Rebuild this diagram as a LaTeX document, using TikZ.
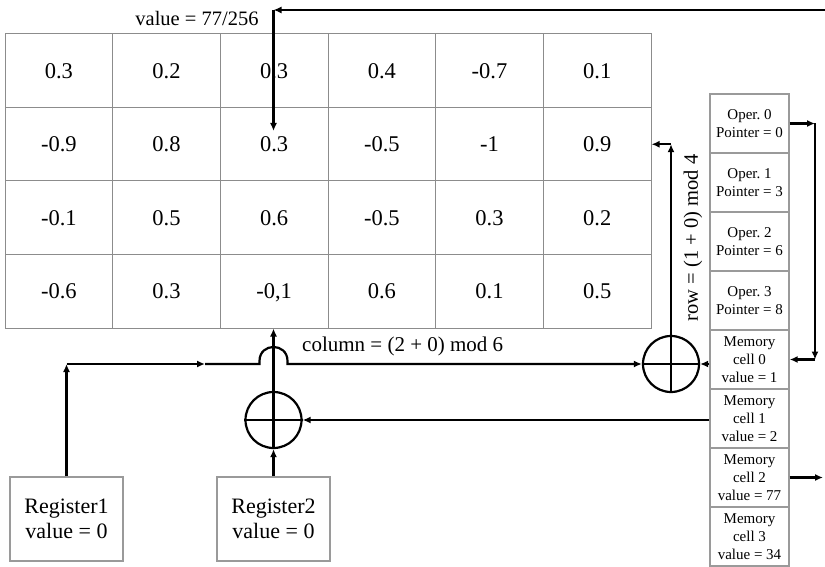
\documentclass[tikz,border=0pt]{standalone}
\usepackage{fontspec}
\setmainfont{Liberation Serif}
\usetikzlibrary{arrows.meta}
\definecolor{gridgray}{HTML}{8C8C8C}
\definecolor{boxgray}{HTML}{9A9A9A}
\frenchspacing
\begin{document}
\begin{tikzpicture}[x=1pt,y=-1pt,
  cell/.style={draw=gridgray, line width=1pt, minimum width=107.67pt, minimum height=73.5pt, inner sep=0pt, text height=15pt, text depth=0pt, font=\fontsize{22.5}{26}\selectfont},
  membox/.style={draw=boxgray, line width=1.4pt, minimum width=79pt, minimum height=59pt, inner sep=0pt, align=center, font=\fontsize{15}{18}\selectfont},
  regbox/.style={draw=boxgray, line width=1.4pt, minimum width=113pt, minimum height=84pt, inner sep=0pt, align=center, font=\fontsize{22}{25}\selectfont},
  xorc/.style={draw, circle, line width=2.2pt, minimum size=56pt, inner sep=0pt},
  conn/.style={line width=2.2pt, -{Latex[length=8pt,width=7pt]}},
  plain/.style={line width=2.2pt},
  lbl/.style={font=\fontsize{20.5}{24}\selectfont, inner sep=0pt}]
\useasboundingbox (0,0) rectangle (825,567);

% grid
\foreach \v [count=\c] in {0.3,0.2,0.3,0.4,-0.7,0.1}
  \node[cell] (g1\c) at ({5+107.67*(\c-0.5)},70.75) {\v};
\foreach \v [count=\c] in {-0.9,0.8,0.3,-0.5,-1,0.9}
  \node[cell] (g2\c) at ({5+107.67*(\c-0.5)},144.25) {\v};
\foreach \v [count=\c] in {-0.1,0.5,0.6,-0.5,0.3,0.2}
  \node[cell] (g3\c) at ({5+107.67*(\c-0.5)},217.75) {\v};
\foreach \v [count=\c] in {-0.6,0.3,{-0,1},0.6,0.1,0.5}
  \node[cell] (g4\c) at ({5+107.67*(\c-0.5)},291.25) {\v};

% memory column
\node[membox] (op0) at (749.5,123.5) {Oper. 0\\Pointer = 0};
\node[membox] (op1) at (749.5,182.5) {Oper. 1\\Pointer = 3};
\node[membox] (op2) at (749.5,241.5) {Oper. 2\\Pointer = 6};
\node[membox] (op3) at (749.5,300.5) {Oper. 3\\Pointer = 8};
\node[membox] (mem0) at (749.5,359.5) {Memory\\cell 0\\value = 1};
\node[membox] (mem1) at (749.5,418.5) {Memory\\cell 1\\value = 2};
\node[membox] (mem2) at (749.5,477.5) {Memory\\cell 2\\value = 77};
\node[membox] (mem3) at (749.5,536.5) {Memory\\cell 3\\value = 34};

% registers
\node[regbox] (reg1) at (66.5,519) {Register1\\value = 0};
\node[regbox] (reg2) at (273.5,519) {Register2\\value = 0};

% xor circles
\node[xorc] (xl) at (273.5,420) {};
\node[xorc] (xr) at (671,364) {};
\draw[plain] (xl.west) -- (xl.east);
\draw[plain] (xr.west) -- (xr.east);

% labels
\node[lbl] (vlab) at (197,18) {value = 77/256};
\node[lbl, anchor=west, font=\fontsize{21}{24}\selectfont] (clab) at (302,346) {column = (2 + 0) mod 6};
\node[lbl, rotate=90] (rlab) at (693,238) {row = (1 + 0) mod 4};

% coordinates
\coordinate (topR) at (825,10);
\coordinate (topL) at (273.5,10);
\coordinate (vtip) at (273.5,131);
\coordinate (r1c) at (66.5,364);
\coordinate (hopin) at (205,364);
\coordinate (rowtop) at (671,144.25);
\coordinate (opR) at (815,123.5);
\coordinate (opD) at (815,359.5);
\coordinate (m2R) at (823,477.5);

% connectors
\draw[conn] (topR) -- (topL);
\draw[conn] (topL) -- (vtip);
\draw[conn] (reg1.north) -- (r1c);
\draw[conn] (r1c) -- (hopin);
\draw[conn] (hopin) -- (259.5,364) -- (259.5,361) .. controls (259.5,342.3) and (287.5,342.3) .. (287.5,361) -- (287.5,364) -- (xr.west);
\draw[conn] (reg2.north) -- (xl.south);
\draw[conn] (xl.south) -- (xl.south |- g43.south);
\draw[conn] (mem1.west |- xl.east) -- (xl.east);
\draw[conn] (mem0.west |- xr.east) -- (xr.east);
\draw[conn] (xr.south) -- (rowtop);
\draw[conn] (rowtop) -- (g26.east);
\draw[conn] (op0.east) -- (opR);
\draw[conn] (opR) -- (opD);
\draw[conn] (opD) -- (mem0.east);
\draw[conn] (mem2.east) -- (m2R);
\end{tikzpicture}
\end{document}
